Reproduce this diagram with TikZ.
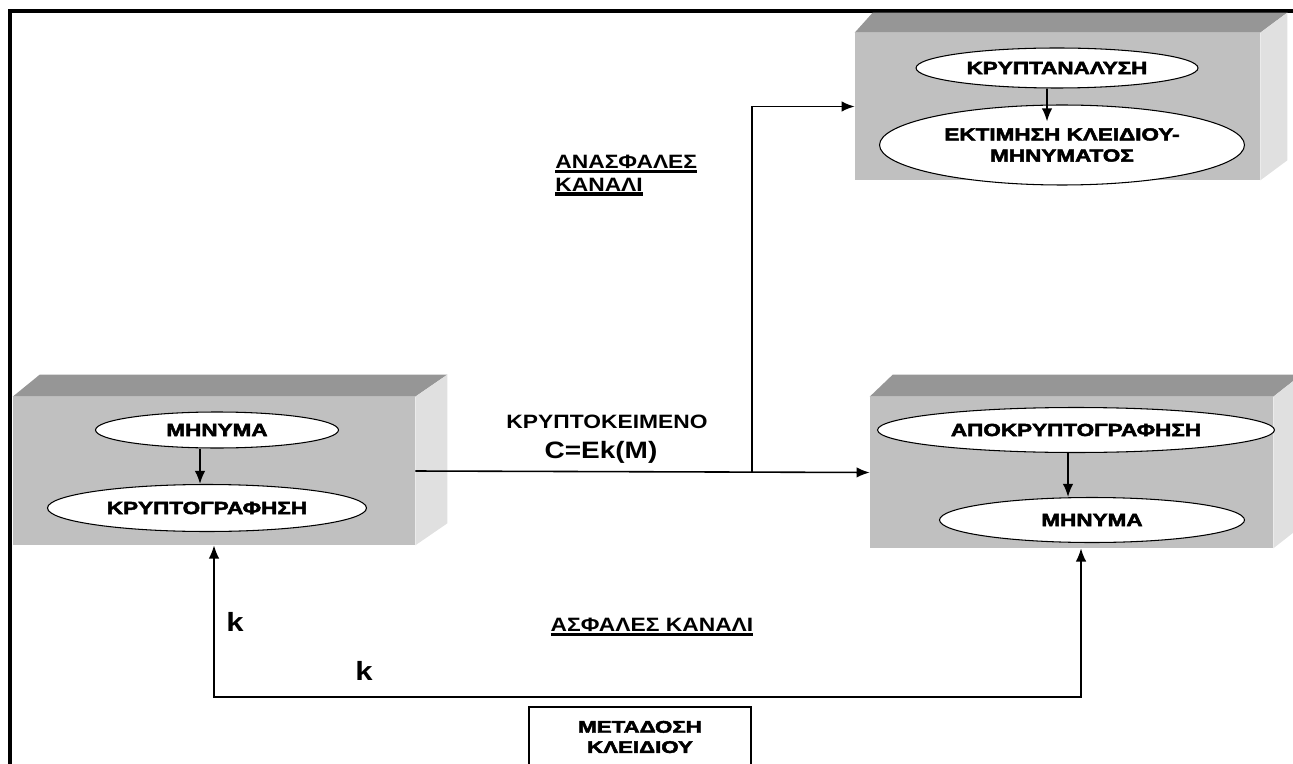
\documentclass[tikz,border=0pt]{standalone}
\usepackage{fontspec}
\setmainfont{Liberation Sans}[FakeStretch=1.18]
\newfontfamily\heavy{Liberation Sans Bold}[FakeBold=2.5]
\usetikzlibrary{shapes.geometric,arrows.meta,calc}

\definecolor{frontgray}{HTML}{C0C0C0}
\definecolor{topgray}{HTML}{969696}
\definecolor{sidegray}{HTML}{E0E0E0}

% thick underline for channel labels
\newcommand\ulin[1]{\setbox0\hbox{#1}\rlap{\rule[-2.3pt]{\wd0}{1.8pt}}\box0}
% widened heavy lettering
\newcommand\wide[1]{\scalebox{1.28}[1]{#1}}
\newcommand\widekey[1]{\scalebox{1.32}[1]{#1}}

\tikzset{
  front/.style={fill=frontgray, inner sep=0pt},
  oval/.style={ellipse, draw, fill=white, line width=0.6pt, inner sep=0pt, align=center,
    font=\heavy\fontsize{10}{12}\selectfont},
  tip/.style={-{Latex[length=7.5pt,width=6pt]}},
  conn/.style={line width=0.9pt, tip},
  lbl/.style={inner sep=0pt, font=\bfseries\fontsize{11}{13}\selectfont},
}

\begin{document}
\begin{tikzpicture}[x=0.02cm, y=-0.02cm]
\useasboundingbox (0,0) rectangle (1293,763);
\clip (0,0) rectangle (1293,763);

% outer frame
\draw[line width=2.3pt] (10,770) -- (10,11) -- (1293,11);

% ---- cryptanalysis block ----
\node[front, minimum width=8.1cm, minimum height=2.94cm] (tbox) at (1057.5,106.5) {};
\fill[topgray] (tbox.north west) -- ++(18,-20) -- ([shift={(27,-20)}]tbox.north east) -- (tbox.north east) -- cycle;
\fill[sidegray] (tbox.north east) -- ++(27,-20) -- ([shift={(27,-20)}]tbox.south east) -- (tbox.south east) -- cycle;
\node[oval, minimum width=5.64cm, minimum height=0.8cm] (e1) at (1057,68) {\wide{ΚΡΥΠΤΑΝΑΛΥΣΗ}};
\node[oval, minimum width=7.3cm, minimum height=1.6cm] (e2) at (1062,145) {\wide{ΕΚΤΙΜΗΣΗ ΚΛΕΙΔΙΟΥ-}\\\wide{ΜΗΝΥΜΑΤΟΣ}};
\draw[conn] ([xshift=-0.2cm]e1.south) -- ([xshift=-0.3cm,yshift=-0.34cm]e2.north);

% ---- encryption block ----
\node[front, minimum width=8.04cm, minimum height=2.96cm] (lbox) at (214,471) {};
\fill[topgray] (lbox.north west) -- ++(27,-22) -- ([shift={(32,-22)}]lbox.north east) -- (lbox.north east) -- cycle;
\fill[sidegray] (lbox.north east) -- ++(32,-22) -- ([shift={(32,-22)}]lbox.south east) -- (lbox.south east) -- cycle;
\node[oval, minimum width=4.86cm, minimum height=0.72cm] (m1) at (217,430) {\wide{ΜΗΝΥΜΑ}};
\node[oval, minimum width=6.38cm, minimum height=0.94cm] (m2) at (207,508) {\wide{ΚΡΥΠΤΟΓΡΑΦΗΣΗ}};
\draw[conn] ([xshift=-0.34cm]m1.south) -- ([xshift=-0.34cm]m1.south |- m2.north);

% ---- decryption block ----
\node[front, minimum width=8.06cm, minimum height=3.02cm] (rbox) at (1071.5,472.5) {};
\fill[topgray] (rbox.north west) -- ++(23,-22) -- ([shift={(28,-22)}]rbox.north east) -- (rbox.north east) -- cycle;
\fill[sidegray] (rbox.north east) -- ++(28,-22) -- ([shift={(28,-22)}]rbox.south east) -- (rbox.south east) -- cycle;
\node[oval, minimum width=7.94cm, minimum height=0.9cm] (d1) at (1076,430) {\wide{ΑΠΟΚΡΥΠΤΟΓΡΑΦΗΣΗ}};
\node[oval, minimum width=6.1cm, minimum height=0.9cm] (d2) at (1092,520) {\wide{ΜΗΝΥΜΑ}};
\draw[conn] ([xshift=-0.16cm]d1.south) -- ([xshift=-0.16cm]d1.south |- d2.north);

% ---- ciphertext channel ----
\draw[conn] (lbox.east) -- (rbox.west);
\coordinate (br) at (752,472);
\draw[conn] (br) |- (tbox.west);
\node[lbl] (ct) at (607,422) {ΚΡΥΠΤΟΚΕΙΜΕΝΟ};
\node[lbl, font=\bfseries\fontsize{13.5}{15}\selectfont] (ce) at (601,452) {C=Ek(M)};
\node[lbl, anchor=north west, align=left] (insec) at (555,155) {\ulin{ΑΝΑΣΦΑΛΕΣ}\\\ulin{ΚΑΝΑΛΙ}};

% ---- key channel ----
\coordinate (kb) at (0,697);
\draw[line width=0.9pt, {Latex[length=7.5pt,width=6pt]}-{Latex[length=7.5pt,width=6pt]}]
  (lbox.south) |- ([xshift=0.19cm]rbox.south |- kb) -- ([xshift=0.19cm]rbox.south);
\node[lbl] (sec) at (652,627) {\ulin{ΑΣΦΑΛΕΣ ΚΑΝΑΛΙ}};
\node[lbl, font=\bfseries\fontsize{15}{17}\selectfont] (k1) at (235,622) {k};
\node[lbl, font=\bfseries\fontsize{15}{17}\selectfont] (k2) at (364,671) {k};

% key transport box
\node[draw, line width=0.9pt, minimum width=4.44cm, minimum height=1.2cm, align=center,
      font=\heavy\fontsize{9.6}{11.5}\selectfont] (kt) at (640,737) {\widekey{ΜΕΤΑΔΟΣΗ}\\\widekey{ΚΛΕΙΔΙΟΥ}};
\end{tikzpicture}
\end{document}
